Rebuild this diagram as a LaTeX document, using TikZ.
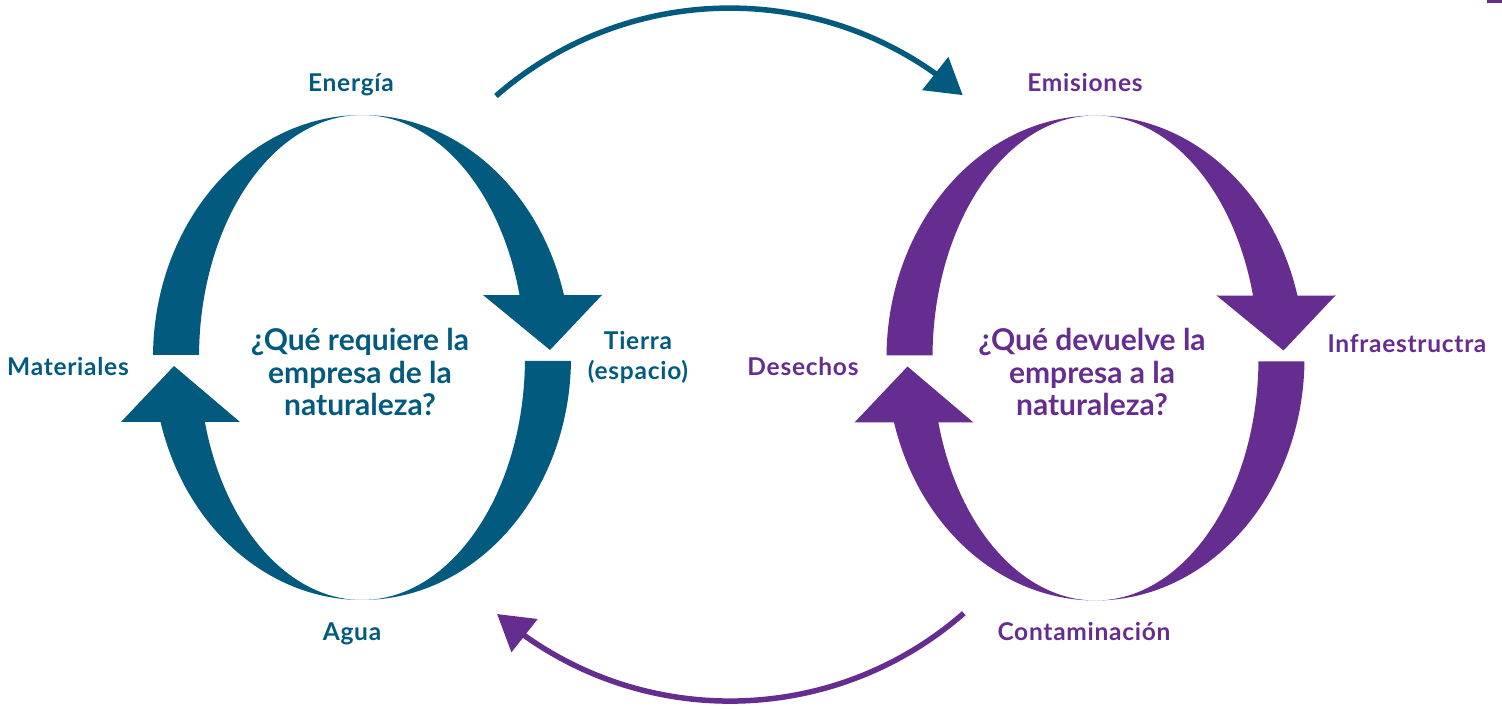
\documentclass[tikz,border=0pt]{standalone}
\usepackage{fontspec}
\setmainfont{Lato}
\newfontfamily\lblfont[LetterSpace=3.0]{Lato}
\usetikzlibrary{arrows.meta,bending}
\definecolor{tealc}{RGB}{2,90,127}
\definecolor{purpc}{RGB}{102,45,145}
\newcommand\cycleloop{%
  % upper-left crescent
  \fill (179.4:209 and 242.5) arc[start angle=179.4,end angle=90,x radius=209,y radius=242.5]
        arc[start angle=90,end angle=179.4,x radius=163,y radius=242.5] -- cycle;
  % upper-right crescent with arrowhead
  \fill (0,242.5) arc[start angle=90,end angle=14.9,x radius=209,y radius=242.5]
        -- (240,62.5) -- (188,7.5) -- (121,62.5)
        -- (14.9:163 and 242.5) arc[start angle=14.9,end angle=90,x radius=163,y radius=242.5] -- cycle;
  % lower-right crescent
  \fill (-0.8:209 and 242.5) arc[start angle=-0.8,end angle=-90,x radius=209,y radius=242.5]
        arc[start angle=-90,end angle=-0.8,x radius=163,y radius=242.5] -- cycle;
  % lower-left crescent with arrowhead
  \fill (0,-242.5) arc[start angle=270,end angle=195.4,x radius=209,y radius=242.5]
        -- (-241,-64.5) -- (-188,-8.5) -- (-122,-64.5)
        -- (195.4:163 and 242.5) arc[start angle=195.4,end angle=270,x radius=163,y radius=242.5] -- cycle;
}
\begin{document}
\begin{tikzpicture}[x=1pt,y=1pt,
  lbl/.style={font=\lblfont\bfseries\fontsize{24.5}{30}\selectfont, align=center, inner sep=0pt},
  quest/.style={font=\bfseries\fontsize{30}{32.5}\selectfont, align=center, inner sep=0pt},
  conn/.style={line width=5.5pt},
]
\useasboundingbox (0,0) rectangle (1502,709);

% loops
\begin{scope}[shift={(362,351.5)}, fill=tealc]
  \cycleloop
\end{scope}
\begin{scope}[shift={(1095.5,351)}, fill=purpc]
  \cycleloop
\end{scope}

% small mark top right
\fill[purpc] (1487,706) rectangle (1502,709);

% left labels
\node[lbl, text=tealc, anchor=base] (energia) at (351,617) {Energía};
\node[lbl, text=tealc, anchor=base] (materiales) at (68,333) {Materiales};
\node[lbl, text=tealc] (tierra) at (638,352) {Tierra\\(espacio)};
\node[lbl, text=tealc, anchor=base] (agua) at (352,68) {Agua};
\node[quest, text=tealc] (qleft) at (360,337) {¿Qué requiere la\\empresa de la\\naturaleza?};

% right labels
\node[lbl, text=purpc, anchor=base] (emisiones) at (1085,617) {Emisiones};
\node[lbl, text=purpc, anchor=base] (infra) at (1407,356) {Infraestructra};
\node[lbl, text=purpc, anchor=base] (desechos) at (803,333) {Desechos};
\node[lbl, text=purpc, anchor=base] (contam) at (1084,68) {Contaminación};
\node[quest, text=purpc] (qright) at (1092,337) {¿Qué devuelve la\\empresa a la\\naturaleza?};

% connectors between the two loops
\coordinate (topstart) at (496,613);
\coordinate (botstart) at (963.8,95.8);
\draw[conn, tealc, -{Triangle[length=35pt,width=41pt]}]
  (topstart) arc[start angle=131.2, end angle=49, radius=355];
\draw[conn, purpc, -{Triangle[length=35pt,width=41pt]}]
  (botstart) arc[start angle=-48.8, end angle=-131, radius=355];
\end{tikzpicture}
\end{document}
